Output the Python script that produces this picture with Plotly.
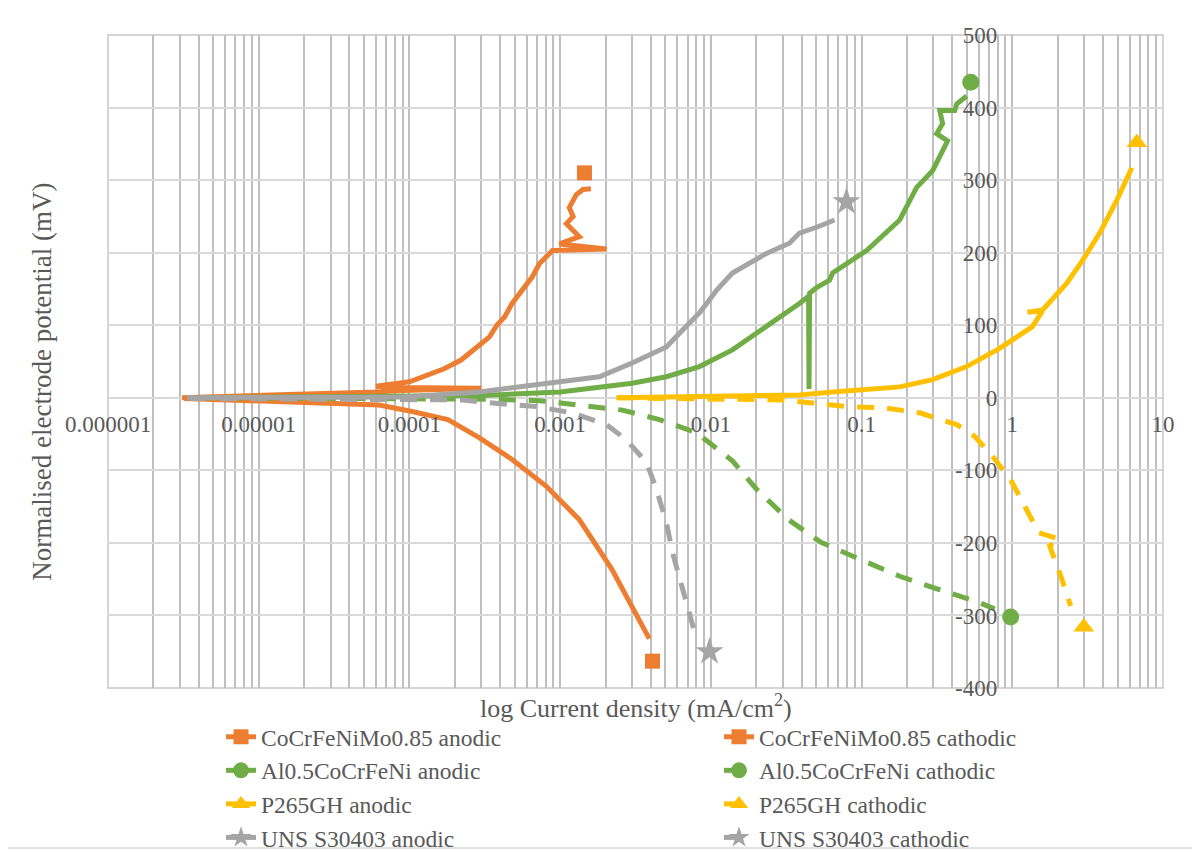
import plotly.graph_objects as go

# ---------------- data ----------------
series_names = [
    "CoCrFeNiMo0.85 anodic", "CoCrFeNiMo0.85 cathodic",
    "Al0.5CoCrFeNi anodic", "Al0.5CoCrFeNi cathodic",
    "P265GH anodic", "P265GH cathodic",
    "UNS S30403 anodic", "UNS S30403 cathodic",
]

coc_an_x = [3.1e-6, 1e-5, 3e-5, 6e-5, 9e-5, 3.0e-4, 8e-5, 6e-5, 1.0e-4, 1.3e-4, 1.7e-4, 2.2e-4,
            2.5e-4, 3.0e-4, 3.4e-4, 3.8e-4, 4.3e-4, 4.8e-4, 5.6e-4, 6.5e-4, 7.3e-4, 8.9e-4,
            2.03e-3, 9.9e-4, 1.34e-3, 1.1e-3, 1.22e-3, 1.15e-3, 1.28e-3, 1.42e-3, 1.6e-3]
coc_an_y = [0, 3, 5, 8, 10, 13, 14, 16, 22, 30, 40, 52, 62, 75, 84, 100, 112, 130, 148, 166, 185,
            203, 205, 212, 222, 240, 250, 262, 280, 287, 288]

coc_ca_x = [3.2e-6, 1.2e-5, 3e-5, 6.3e-5, 1.04e-4, 1.8e-4, 2.9e-4, 4.8e-4, 8.1e-4, 1.34e-3,
            2.2e-3, 3.0e-3, 3.9e-3]
coc_ca_y = [-1, -5, -7, -10, -19, -30, -55, -85, -122, -168, -236, -287, -332]

al_an_x = [4e-6, 1e-4, 3e-4, 1e-3, 1.82e-3, 3.0e-3, 5.07e-3, 8.4e-3, 0.0139, 0.0234, 0.0387,
           0.0445, 0.0448, 0.0452, 0.0503, 0.0613, 0.0643, 0.108, 0.179, 0.232, 0.296, 0.345,
           0.372, 0.315, 0.345, 0.33, 0.415, 0.428, 0.498]
al_an_y = [0, 1, 3, 8, 14, 20, 29, 43, 66, 98, 130, 140, 12, 144, 152, 162, 172, 203, 245, 290,
           313, 340, 354, 364, 378, 396, 396, 405, 416]

al_ca_x = [4e-6, 1e-4, 3.55e-4, 7.3e-4, 1.49e-3, 2.59e-3, 4.56e-3, 8.0e-3, 0.0139, 0.0201,
           0.0327, 0.0534, 0.0985, 0.179, 0.324, 0.428, 0.598, 0.764]
al_ca_y = [0, -1, -2, -4, -11, -17, -30, -48, -87, -126, -168, -199, -223, -246, -264, -272,
           -282, -291]

p265_an_x = [2.36e-3, 8.4e-3, 0.0387, 0.0643, 0.108, 0.179, 0.296, 0.498, 0.824, 1.36, 1.59,
             1.26, 1.59, 2.30, 2.94, 3.80, 4.93, 6.21]
p265_an_y = [0, 2, 4, 8, 12, 15, 25, 43, 68, 98, 120, 118, 121, 158, 190, 227, 272, 317]

p265_ca_x = [2.4e-3, 0.0298, 0.078, 0.144, 0.246, 0.428, 0.562, 0.741, 0.975, 1.21, 1.50, 2.07,
             1.77, 2.10, 2.44]
p265_ca_y = [0, -3, -12, -14, -21, -37, -53, -81, -113, -150, -186, -195, -204, -246, -287]

uns_an_x = [3.35e-6, 9.2e-5, 2.9e-4, 1.34e-3, 1.82e-3, 3.0e-3, 5.07e-3, 6.47e-3, 8.4e-3, 9.8e-3,
            0.0109, 0.0139, 0.018, 0.0234, 0.0332, 0.0387, 0.0503, 0.0662]
uns_an_y = [0, 1, 8, 25, 29, 48, 70, 93, 117, 135, 148, 172, 185, 199, 213, 227, 235, 245]

uns_ca_x = [3.5e-6, 5e-5, 2.24e-4, 4.4e-4, 6.95e-4, 1.21e-3, 2.03e-3, 2.75e-3, 3.74e-3, 4.35e-3,
            5.07e-3, 5.56e-3, 6.47e-3, 7.55e-3, 7.8e-3]
uns_ca_y = [-1, -2, -3, -9, -12, -21, -37, -58, -89, -126, -172, -213, -264, -315, -323]

# end markers (one per series)
marker_x = [1.45e-3, 4.1e-3, 0.53, 0.975, 6.70, 2.98, 0.0794, 9.8e-3]
marker_y = [310, -363, 435, -302, 352, -316, 270, -350]

x_tickvals = [1e-6, 1e-5, 1e-4, 1e-3, 1e-2, 1e-1, 1, 10]
x_ticktext = ["0.000001", "0.00001", "0.0001", "0.001", "0.01", "0.1", "1", "10"]
y_tickvals = [-400, -300, -200, -100, 0, 100, 200, 300, 400, 500]
y_ticktext = ["-400", "-300", "-200", "-100", "0", "100", "200", "300", "400", "500"]

# ---------------- styling ----------------
ORANGE, GREEN, YELLOW, GRAY = "#ED7D31", "#70AD47", "#FFC000", "#A5A5A5"
FONT = "Liberation Serif, Times New Roman, serif"
TXT = "#595959"
W, H = 1192, 846   # page adds an 8px body margin

line_x = [coc_an_x, coc_ca_x, al_an_x, al_ca_x, p265_an_x, p265_ca_x, uns_an_x, uns_ca_x]
line_y = [coc_an_y, coc_ca_y, al_an_y, al_ca_y, p265_an_y, p265_ca_y, uns_an_y, uns_ca_y]
colors = [ORANGE, ORANGE, GREEN, GREEN, YELLOW, YELLOW, GRAY, GRAY]
dashes = ["solid", "solid", "solid", "17px,13px", "solid", "17px,13px", "solid", "17px,13px"]
symbols = ["square", "square", "circle", "circle", "triangle-up", "triangle-up", "star", "star"]
msizes = [15, 15, 17, 17, 18, 18, 21, 21]
legends = ["legend", "legend2"] * 4

fig = go.Figure()
for i in range(8):
    xs = list(line_x[i]) + [None, marker_x[i]]
    ys = list(line_y[i]) + [None, marker_y[i]]
    fig.add_trace(go.Scatter(
        x=xs, y=ys, name=series_names[i], mode="lines+markers",
        line=dict(color=colors[i], width=5, dash=dashes[i]),
        marker=dict(color=colors[i], symbol=symbols[i], size=msizes[i], line=dict(width=0)),
        selectedpoints=[len(xs) - 1],
        selected=dict(marker=dict(opacity=1)),
        unselected=dict(marker=dict(opacity=0)),
        connectgaps=False,
        legend=legends[i],
        hoverinfo="x+y+name",
    ))

minor_vals = [m * 10 ** e for e in range(-6, 1) for m in range(2, 10)]

legend_common = dict(
    orientation="v", xref="container", yref="container",
    xanchor="left", yanchor="top", y=1 - 707 / H,
    font=dict(family=FONT, size=23.5, color=TXT),
    bgcolor="rgba(0,0,0,0)", tracegroupgap=0, borderwidth=0,
)

fig.update_layout(
    width=W, height=H,
    paper_bgcolor="white", plot_bgcolor="white",
    margin=dict(l=100, r=37, t=27, b=166, autoexpand=False),
    font=dict(family=FONT, color=TXT, size=23),
    showlegend=True,
    legend=dict(x=213 / W, **legend_common),
    legend2=dict(x=711 / W, **legend_common),
    xaxis=dict(
        type="log", range=[-6, 1], domain=[0, 1],
        anchor="free", position=4 / 9,
        tickmode="array", tickvals=x_tickvals, ticktext=x_ticktext,
        showgrid=True, gridcolor="#BFBFBF", gridwidth=1.5,
        minor=dict(tickmode="array", tickvals=minor_vals, showgrid=True,
                   gridcolor="#BFBFBF", gridwidth=1.5, ticks=""),
        ticks="", showline=False, zeroline=False,
        tickfont=dict(family=FONT, size=23, color=TXT),
        ticklabelstandoff=10, automargin=False,
    ),
    yaxis=dict(
        range=[-400, 500], domain=[0, 1],
        anchor="free", position=6 / 7, side="left",
        tickmode="array", tickvals=y_tickvals, ticktext=y_ticktext,
        showgrid=True, gridcolor="#D9D9D9", gridwidth=1.5,
        zeroline=True, zerolinecolor="#D9D9D9", zerolinewidth=1.5,
        ticks="", showline=False,
        tickfont=dict(family=FONT, size=23, color=TXT),
        ticklabelstandoff=15, automargin=False,
    ),
    annotations=[
        dict(text="log Current density (mA/cm<sup>2</sup>)", xref="paper", yref="paper",
             x=0.5, y=-0.029, xanchor="center", yanchor="middle", showarrow=False,
             font=dict(family=FONT, size=26, color=TXT)),
        dict(text="Normalised electrode potential (mV)", xref="paper", yref="paper",
             x=-0.0626, y=0.469, xanchor="center", yanchor="middle", showarrow=False,
             textangle=-90, font=dict(family=FONT, size=27, color=TXT)),
    ],
    shapes=[
        dict(type="rect", xref="paper", yref="paper",
             x0=(7 - 108) / 1055, x1=(1197 - 108) / 1055,
             y0=(688 - 848) / 653, y1=(688 - 6) / 653,
             line=dict(color="#D9D9D9", width=1.5), fillcolor="rgba(0,0,0,0)", layer="below"),
        dict(type="rect", xref="paper", yref="paper", x0=0, x1=1, y0=0, y1=1,
             line=dict(color="#C8C8C8", width=1.5), fillcolor="rgba(0,0,0,0)", layer="below"),
    ],
)

fig.write_html("out.html")
